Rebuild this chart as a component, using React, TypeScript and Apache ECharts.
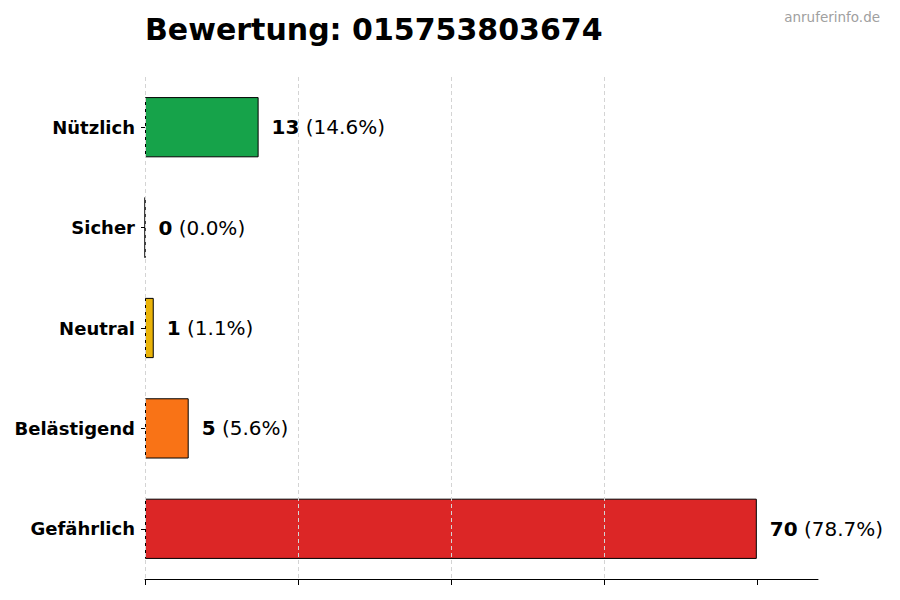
import { useEffect, useRef } from 'react';
import * as echarts from 'echarts';

const categories = ['Nützlich', 'Sicher', 'Neutral', 'Belästigend', 'Gefährlich'];
const counts = [13, 0, 1, 5, 70];
const percents = ['14.6', '0.0', '1.1', '5.6', '78.7'];
const colors = ['#16a34a', '#dc2626', '#eab308', '#f97316', '#dc2626'];
const tickValues = [0, 17.5, 35, 52.5, 70];

const FONT = '"DejaVu Sans", sans-serif';

export default function App() {
  const chartRef = useRef(null);

  useEffect(() => {
    document.body.style.margin = '0';
    const chart = echarts.init(chartRef.current, null, { renderer: 'svg' });
    const option = {
      animation: false,
      textStyle: { fontFamily: FONT },
      title: {
        text: 'Bewertung: 015753803674',
        left: 145,
        top: 14,
        padding: 0,
        textStyle: { fontFamily: FONT, fontSize: 30, fontWeight: 'bold', color: '#000' },
      },
      graphic: [
        {
          type: 'text',
          right: 20,
          top: 10,
          style: { text: 'anruferinfo.de', fontFamily: FONT, fontSize: 13.5, fill: '#a0a0a0' },
        },
      ],
      grid: { left: 145, right: 82, top: 77, height: 502 },
      xAxis: {
        type: 'value',
        min: 0,
        max: 77,
        interval: 17.5,
        axisLabel: { show: false },
        axisLine: { show: true, lineStyle: { color: '#000', width: 1 } },
        axisTick: { show: true, length: 6, customValues: tickValues, lineStyle: { color: '#000' } },
        splitLine: {
          show: true,
          showMaxLine: false,
          lineStyle: { color: '#d4d4d4', type: [4, 3], width: 1 },
        },
      },
      yAxis: {
        type: 'category',
        inverse: true,
        data: categories,
        axisLine: { show: false },
        axisTick: { show: true, length: 4, alignWithLabel: true, lineStyle: { color: '#000' } },
        axisLabel: { margin: 10, fontFamily: FONT, fontSize: 18, fontWeight: 'bold', color: '#000' },
      },
      series: [
        {
          type: 'bar',
          z: -1,
          barWidth: '60%',
          data: counts.map((v, i) => ({
            value: v,
            itemStyle: { color: colors[i], borderColor: '#000', borderWidth: 1 },
          })),
          label: {
            show: true,
            position: 'right',
            distance: 13,
            formatter: (p: any) => `{b|${counts[p.dataIndex]}}{n| (${percents[p.dataIndex]}%)}`,
            rich: {
              b: { fontFamily: FONT, fontSize: 20, fontWeight: 'bold', color: '#000' },
              n: { fontFamily: FONT, fontSize: 20, color: '#000' },
            },
          },
        },
      ],
    };
    chart.setOption(option);
    return () => {
      chart.dispose();
    };
  }, []);

  return <div ref={chartRef} style={{ width: '900px', height: '600px' }} />;
}
